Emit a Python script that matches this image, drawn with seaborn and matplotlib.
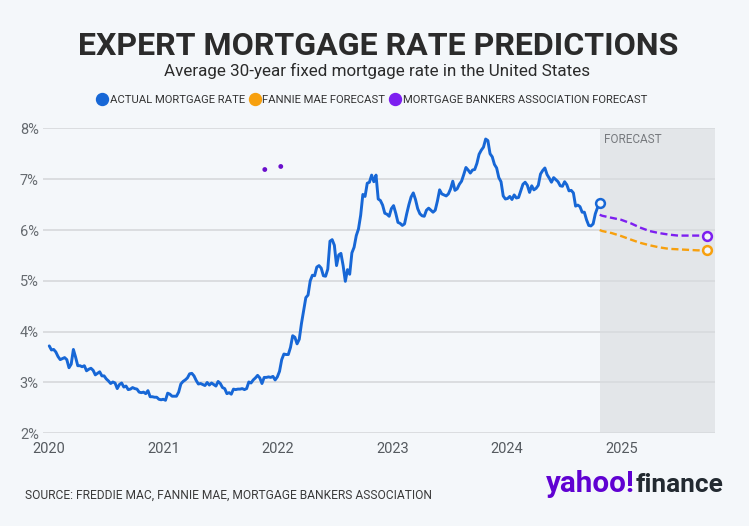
import numpy as np
import pandas as pd
import matplotlib
matplotlib.use("Agg")
import matplotlib.pyplot as plt
import seaborn as sns
from matplotlib import font_manager
from matplotlib.lines import Line2D

# Weekly 30-year fixed rate (Freddie Mac)
rates_2020 = [3.72, 3.64, 3.65, 3.60, 3.51, 3.45, 3.47, 3.49, 3.45, 3.29, 3.36, 3.65, 3.50,
              3.33, 3.33, 3.31, 3.33, 3.23, 3.26, 3.28, 3.24, 3.15, 3.18, 3.21, 3.13, 3.13,
              3.07, 3.03, 2.98, 3.01, 2.99, 2.88, 2.96, 2.99, 2.91, 2.93, 2.86, 2.87, 2.90,
              2.88, 2.87, 2.81, 2.80, 2.81, 2.78, 2.84, 2.72, 2.72, 2.71, 2.71, 2.67, 2.66, 2.67]
rates_2021 = [2.65, 2.79, 2.77, 2.73, 2.73, 2.73, 2.81, 2.97, 3.02, 3.05, 3.09, 3.17,
              3.18, 3.13, 3.04, 2.97, 2.98, 2.96, 2.94, 3.00, 2.95, 2.99, 2.96, 2.93, 3.02,
              2.98, 2.90, 2.88, 2.78, 2.80, 2.77, 2.87, 2.86, 2.87, 2.87, 2.88, 2.86, 2.88, 3.01,
              2.99, 3.05, 3.09, 3.14, 3.09, 2.98, 3.10, 3.10, 3.11, 3.10, 3.12, 3.05, 3.11]
rates_2022 = [3.22, 3.45, 3.56, 3.55, 3.55, 3.69, 3.92, 3.89, 3.76, 3.85, 4.16, 4.42, 4.67,
              4.72, 5.00, 5.11, 5.10, 5.27, 5.30, 5.25, 5.10, 5.09, 5.23, 5.78, 5.81, 5.70,
              5.30, 5.51, 5.54, 5.30, 4.99, 5.22, 5.13, 5.55, 5.66, 5.89, 6.02, 6.29, 6.70,
              6.66, 6.92, 6.94, 7.08, 6.95, 7.08, 6.61, 6.58, 6.49, 6.33, 6.31, 6.27, 6.42]
rates_2023 = [6.48, 6.33, 6.15, 6.13, 6.09, 6.12, 6.32, 6.50, 6.65, 6.73, 6.60, 6.42, 6.32,
              6.28, 6.27, 6.39, 6.43, 6.39, 6.35, 6.39, 6.57, 6.79, 6.71, 6.69, 6.67, 6.71,
              6.81, 6.96, 6.78, 6.81, 6.90, 6.96, 7.09, 7.23, 7.18, 7.12, 7.18, 7.19, 7.31,
              7.49, 7.57, 7.63, 7.79, 7.76, 7.50, 7.44, 7.29, 7.22, 7.03, 6.95, 6.67, 6.61]
rates_2024 = [6.62, 6.66, 6.60, 6.69, 6.63, 6.64, 6.77, 6.90, 6.94, 6.88, 6.74, 6.87, 6.79,
              6.82, 6.88, 7.10, 7.17, 7.22, 7.09, 7.02, 6.94, 7.03, 6.99, 6.95, 6.87, 6.86,
              6.95, 6.89, 6.77, 6.78, 6.73, 6.47, 6.49, 6.46, 6.35, 6.35, 6.20, 6.09, 6.08,
              6.12, 6.32, 6.44, 6.54]
actual_rate = rates_2020 + rates_2021 + rates_2022 + rates_2023 + rates_2024
actual_dates = pd.date_range("2020-01-02", periods=len(actual_rate), freq="7D")

# Forecasts
forecast_dates = pd.to_datetime(["2024-10-24", "2024-11-01", "2024-12-01", "2025-01-01",
                                 "2025-02-01", "2025-03-01", "2025-04-01", "2025-05-01",
                                 "2025-06-01", "2025-07-01", "2025-08-01", "2025-09-01",
                                 "2025-10-01"])
fannie_forecast = [6.00, 5.98, 5.94, 5.88, 5.81, 5.75, 5.70, 5.66, 5.63, 5.62, 5.61, 5.60, 5.60]
mba_forecast = [6.30, 6.28, 6.24, 6.20, 6.13, 6.05, 5.98, 5.94, 5.91, 5.89, 5.89, 5.89, 5.89]

# two stray MBA points at the top
mba_dot_dates = pd.to_datetime(["2021-11-20", "2022-01-10"])
mba_dot_values = [7.19, 7.25]

year_ticks = pd.to_datetime(["2020-01-01", "2021-01-01", "2022-01-01",
                             "2023-01-01", "2024-01-01", "2025-01-01"])
year_labels = ["2020", "2021", "2022", "2023", "2024", "2025"]
pct_ticks = [2, 3, 4, 5, 6, 7, 8]

BG = "#f4f7fa"
BLUE = "#1767d6"
ORANGE = "#f7a00e"
PURPLE = "#7d1ff0"

sns.set_style("white")
names = {f.name for f in font_manager.fontManager.ttflist}
COND = "Liberation Sans Narrow" if "Liberation Sans Narrow" in names else "Roboto"
plt.rcParams["font.family"] = [COND, "DejaVu Sans"]

fig = plt.figure(figsize=(7.49, 5.26), dpi=100, facecolor=BG)
ax = fig.add_axes([0.0574, 0.1762, 0.8972, 0.5798], facecolor=BG)

x_left = pd.Timestamp("2019-12-13")
x_right = pd.Timestamp("2025-10-27")
fc_start = forecast_dates[0]

ax.axvspan(fc_start, x_right, color="#e3e6e9", zorder=0.5, lw=0)
for p in pct_ticks:
    ax.axhline(p, color="#d9dbde", lw=1.3, zorder=0.8)

sns.lineplot(x=actual_dates, y=actual_rate, ax=ax, color=BLUE, lw=2.1, zorder=3)
sns.lineplot(x=forecast_dates, y=mba_forecast, ax=ax, color=PURPLE, lw=1.7, zorder=3)
ax.lines[-1].set_dashes([3, 1.5])
sns.lineplot(x=forecast_dates, y=fannie_forecast, ax=ax, color=ORANGE, lw=1.7, zorder=3)
ax.lines[-1].set_dashes([3, 1.5])

sns.scatterplot(x=[actual_dates[-1]], y=[actual_rate[-1]], ax=ax, s=40,
                facecolor=BG, edgecolor=BLUE, linewidth=1.8, zorder=5)
sns.scatterplot(x=[forecast_dates[-1]], y=[mba_forecast[-1]], ax=ax, s=40,
                facecolor=BG, edgecolor=PURPLE, linewidth=1.8, zorder=5)
sns.scatterplot(x=[forecast_dates[-1]], y=[fannie_forecast[-1]], ax=ax, s=40,
                facecolor=BG, edgecolor=ORANGE, linewidth=1.8, zorder=5)
sns.scatterplot(x=mba_dot_dates, y=mba_dot_values, ax=ax, s=12, color="#6a0fcc",
                edgecolor="none", zorder=5)

ax.text(pd.Timestamp("2024-11-08"), 7.79, "FORECAST", fontsize=8.5, color="#777a7e",
        va="center", ha="left")

ax.set_xlim(x_left, x_right)
ax.set_ylim(2, 8)
ax.set_xticks(year_ticks)
ax.set_xticklabels(year_labels)
ax.set_yticks(pct_ticks)
ax.set_yticklabels([f"{p}%" for p in pct_ticks])
ax.tick_params(axis="x", length=5, width=1, color="#d2d4d7", pad=1,
               labelsize=10.5, labelcolor="#555a5f")
ax.tick_params(axis="y", length=0, pad=3, labelsize=10.5, labelcolor="#666b70")
ax.set_xlabel("")
ax.set_ylabel("")
for s in ax.spines.values():
    s.set_visible(False)

# titles
title = fig.text(0.5053, 1 - 55 / 526, "EXPERT MORTGAGE RATE PREDICTIONS", ha="center",
                 va="baseline", fontsize=27, fontweight="bold", color="#2b2b2b")
sub = fig.text(0.503, 1 - 76 / 526, "Average 30-year fixed mortgage rate in the United States",
               ha="center", va="baseline", fontsize=13, color="#2b2b2b")
src = fig.text(25 / 749, 1 - 499 / 526,
               "SOURCE: FREDDIE MAC, FANNIE MAE, MORTGAGE BANKERS ASSOCIATION",
               ha="left", va="baseline", fontsize=9.5, color="#3a3a3a")

handles = [Line2D([], [], ls="none", marker="o", ms=8.6, color=c) for c in (BLUE, ORANGE, PURPLE)]
leg = fig.legend(handles, ["ACTUAL MORTGAGE RATE", "FANNIE MAE FORECAST",
                           "MORTGAGE BANKERS ASSOCIATION FORECAST"],
                 loc="center", bbox_to_anchor=(0.497, 1 - 100 / 526), ncol=3, frameon=False,
                 fontsize=8.1, handlelength=0.9, handletextpad=0.2, columnspacing=0.45,
                 borderpad=0)
for t in leg.get_texts():
    t.set_color("#333333")

yahoo = fig.text(546 / 749, 1 - 492 / 526, "yahoo!", ha="left", va="baseline",
                 fontsize=19, fontweight="bold", color="#6001d2")

fig.canvas.draw()
r = fig.canvas.get_renderer()


def fit(t, target):
    w = t.get_window_extent(r).width
    t.set_fontsize(t.get_fontsize() * target / w)


fit(title, 600)
fit(sub, 427)
fit(src, 409)
fit(yahoo, 89)
fig.canvas.draw()
yb = yahoo.get_window_extent(r)
fin = fig.text((yb.x1 + 1) / 749, 1 - 492 / 526, "finance", ha="left", va="baseline",
               fontsize=yahoo.get_fontsize(), fontweight="bold", color="#232a31")
fit(fin, 88)

fig.savefig("out.png", dpi=100, facecolor=BG)
